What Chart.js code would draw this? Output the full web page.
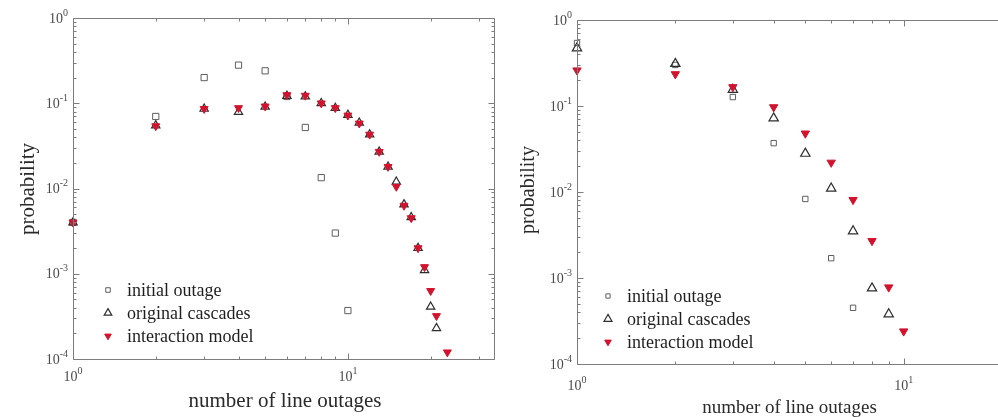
<!DOCTYPE html>
<html><head><meta charset="utf-8">
<script src="https://cdn.jsdelivr.net/npm/chart.js@4"></script>
<style>
html,body{margin:0;padding:0;background:#fff;overflow:hidden;width:998px;height:417px;position:relative}
#c1{position:absolute;left:0;top:0}
#c2{position:absolute;left:500px;top:0}
</style></head><body>
<canvas id="c1" width="500" height="417"></canvas>
<canvas id="c2" width="540" height="417"></canvas>
<script>
// ---- data ----
const seriesNames = ['initial outage', 'original cascades', 'interaction model'];
const xAxisTitle = 'number of line outages';
const yAxisTitle = 'probability';
const yTickPowers = [0, -1, -2, -3, -4];
const xTickPowers = [0, 1];

// left panel
const leftInitialX = [1, 2, 3, 4, 5, 6, 7, 8, 9, 10];
const leftInitialP = [0.004, 0.07, 0.2, 0.28, 0.24, 0.12, 0.052, 0.0134, 0.003, 0.00037];
const leftCascadeX = [1, 2, 3, 4, 5, 6, 7, 8, 9, 10, 11, 12, 13, 14, 15, 16, 17, 18, 19, 20, 21];
const leftCascadeP = [0.004, 0.055, 0.086, 0.079, 0.091, 0.122, 0.12, 0.1, 0.088, 0.073, 0.059, 0.043, 0.027, 0.018, 0.012, 0.0065, 0.0046, 0.002, 0.0011, 0.00041, 0.00023];
const leftModelX = [1, 2, 3, 4, 5, 6, 7, 8, 9, 10, 11, 12, 13, 14, 15, 16, 17, 18, 19, 20, 21, 23];
const leftModelP = [0.004, 0.054, 0.086, 0.088, 0.092, 0.125, 0.123, 0.1, 0.088, 0.072, 0.058, 0.043, 0.027, 0.018, 0.0105, 0.0063, 0.0045, 0.002, 0.0012, 0.00063, 0.00032, 0.00012];

// right panel
const rightInitialX = [1, 2, 3, 4, 5, 6, 7];
const rightInitialP = [0.54, 0.3, 0.127, 0.037, 0.0083, 0.0017, 0.00045];
const rightCascadeX = [1, 2, 3, 4, 5, 6, 7, 8, 9];
const rightCascadeP = [0.47, 0.31, 0.155, 0.072, 0.028, 0.011, 0.0035, 0.00076, 0.00038];
const rightModelX = [1, 2, 3, 4, 5, 6, 7, 8, 9, 10];
const rightModelP = [0.26, 0.235, 0.166, 0.097, 0.048, 0.022, 0.0081, 0.0027, 0.00078, 0.00024];

// ---- styling ----
const SERIF = '"Liberation Serif", "Times New Roman", serif';
const RED = '#d3122d';
const markerStyles = [
  {pointStyle: 'rect', rotation: 0, fill: 'rgba(0,0,0,0)', stroke: '#5e5e5e', lw: 1},
  {pointStyle: 'triangle', rotation: 0, fill: 'rgba(0,0,0,0)', stroke: '#2e2e2e', lw: 1.2},
  {pointStyle: 'triangle', rotation: 180, fill: RED, stroke: RED, lw: 1}
];

function pts(xs, ys) { return xs.map((x, i) => ({x: x, y: ys[i]})); }

function drawPow(ctx, exp, x, y, align) {
  const base = '10', sup = String(exp);
  ctx.font = '14px ' + SERIF;
  const wb = ctx.measureText(base).width;
  ctx.font = '10px ' + SERIF;
  const ws = ctx.measureText(sup).width;
  const total = wb + ws;
  let x0 = align === 'right' ? x - total : x - total / 2;
  ctx.textAlign = 'left';
  ctx.textBaseline = 'middle';
  ctx.font = '14px ' + SERIF;
  ctx.fillText(base, x0, y + 1);
  ctx.font = '10px ' + SERIF;
  ctx.fillText(sup, x0 + wb, y - 5);
}

function makeDeco(p) {
  return {
    id: 'deco',
    afterDatasetsDraw(chart) {
      const ctx = chart.ctx, a = chart.chartArea;
      const sx = chart.scales.x, sy = chart.scales.y;
      ctx.save();
      ctx.strokeStyle = '#7d7d7d';
      ctx.lineWidth = 1;
      const L = Math.round(a.left) + 0.5, T = Math.round(a.top) + 0.5;
      const R = Math.round(a.right) + 0.5, B = Math.round(a.bottom) + 0.5;
      ctx.beginPath();
      ctx.moveTo(R, T); ctx.lineTo(L, T); ctx.lineTo(L, B); ctx.lineTo(R, B);
      if (p.rightBorder) ctx.lineTo(R, T);
      ctx.stroke();
      ctx.beginPath();
      for (let k = -4; k <= 1; k++) {
        for (let m = 1; m <= 9; m++) {
          const v = m * Math.pow(10, k);
          const len = m === 1 ? 6 : 3;
          if (v >= sy.min * 0.999 && v <= sy.max * 1.001) {
            const py = Math.round(sy.getPixelForValue(v)) + 0.5;
            ctx.moveTo(L, py); ctx.lineTo(L + len, py);
            if (p.rightBorder) { ctx.moveTo(R, py); ctx.lineTo(R - len, py); }
          }
          if (v >= sx.min * 0.999 && v <= sx.max * 1.001) {
            const px = Math.round(sx.getPixelForValue(v)) + 0.5;
            ctx.moveTo(px, B); ctx.lineTo(px, B - len);
            ctx.moveTo(px, T); ctx.lineTo(px, T + len);
          }
        }
      }
      ctx.stroke();

      // tick labels
      ctx.fillStyle = '#4a4a4a';
      yTickPowers.forEach(e => {
        drawPow(ctx, e, a.left - 5, sy.getPixelForValue(Math.pow(10, e)), 'right');
      });
      xTickPowers.forEach(e => {
        drawPow(ctx, e, sx.getPixelForValue(Math.pow(10, e)), a.bottom + p.xLabelOffset, 'center');
      });

      // axis titles
      ctx.fillStyle = '#2a2a2a';
      ctx.textAlign = 'center';
      ctx.textBaseline = 'middle';
      ctx.font = p.xTitleSize + 'px ' + SERIF;
      ctx.fillText(xAxisTitle, (a.left + p.xTitleRight) / 2, p.xTitleY);
      ctx.font = p.yTitleSize + 'px ' + SERIF;
      ctx.save();
      ctx.translate(p.yTitleX, p.yTitleY);
      ctx.rotate(-Math.PI / 2);
      ctx.fillText(yAxisTitle, 0, 0);
      ctx.restore();

      // legend
      ctx.font = p.legendSize + 'px ' + SERIF;
      ctx.textAlign = 'left';
      ctx.textBaseline = 'middle';
      seriesNames.forEach((name, i) => {
        const st = markerStyles[i];
        const y = p.legendY[i];
        ctx.fillStyle = st.fill;
        ctx.strokeStyle = st.stroke;
        ctx.lineWidth = st.lw;
        Chart.helpers.drawPoint(ctx, {pointStyle: st.pointStyle, rotation: st.rotation, radius: p.legendRadii[i], borderWidth: st.lw}, p.legendMarkerX, y);
        ctx.fillStyle = '#1e1e1e';
        ctx.fillText(name, p.legendTextX, y + 1);
      });
      ctx.restore();
    }
  };
}

function build(id, p) {
  const datasets = p.series.map((s, i) => {
    const st = markerStyles[i];
    return {
      label: seriesNames[i],
      data: pts(s[0], s[1]),
      pointStyle: st.pointStyle,
      rotation: st.rotation,
      pointRadius: p.radii[i],
      pointBackgroundColor: st.fill,
      pointBorderColor: st.stroke,
      pointBorderWidth: st.lw,
      showLine: false,
      order: 2 - i,
      clip: false
    };
  });
  const hiddenAxis = (min, max) => ({
    type: 'logarithmic', min: min, max: max,
    grid: {display: false, drawTicks: false},
    border: {display: false},
    ticks: {display: false},
    title: {display: false}
  });
  return new Chart(document.getElementById(id), {
    type: 'scatter',
    data: {datasets: datasets},
    options: {
      responsive: false,
      animation: false,
      devicePixelRatio: 1,
      layout: {padding: p.padding},
      plugins: {legend: {display: false}, tooltip: {enabled: false}},
      scales: {x: hiddenAxis(1, p.xMax), y: hiddenAxis(1e-4, 1)}
    },
    plugins: [makeDeco(p)]
  });
}

build('c1', {
  series: [[leftInitialX, leftInitialP], [leftCascadeX, leftCascadeP], [leftModelX, leftModelP]],
  radii: [4.4, 4.8, 4.6],
  xMax: 34,
  rightBorder: true,
  padding: {left: 73, top: 18, right: 3, bottom: 58},
  xLabelOffset: 17,
  xTitleRight: 497,
  xTitleY: 401,
  xTitleSize: 21,
  yTitleX: 28,
  yTitleY: 189,
  yTitleSize: 21,
  legendSize: 18,
  legendY: [290, 313, 336],
  legendMarkerX: 108,
  legendTextX: 127,
  legendRadii: [3.2, 4.4, 3.8]
});

build('c2', {
  series: [[rightInitialX, rightInitialP], [rightCascadeX, rightCascadeP], [rightModelX, rightModelP]],
  radii: [3.8, 5.4, 4.8],
  xMax: 20,
  rightBorder: false,
  padding: {left: 77, top: 20, right: 38, bottom: 53},
  xLabelOffset: 21,
  xTitleRight: 502,
  xTitleY: 408,
  xTitleSize: 19,
  yTitleX: 29,
  yTitleY: 190,
  yTitleSize: 20,
  legendSize: 18,
  legendY: [296, 319, 342],
  legendMarkerX: 108,
  legendTextX: 127,
  legendRadii: [3.0, 4.6, 3.8]
});
</script>
</body></html>
